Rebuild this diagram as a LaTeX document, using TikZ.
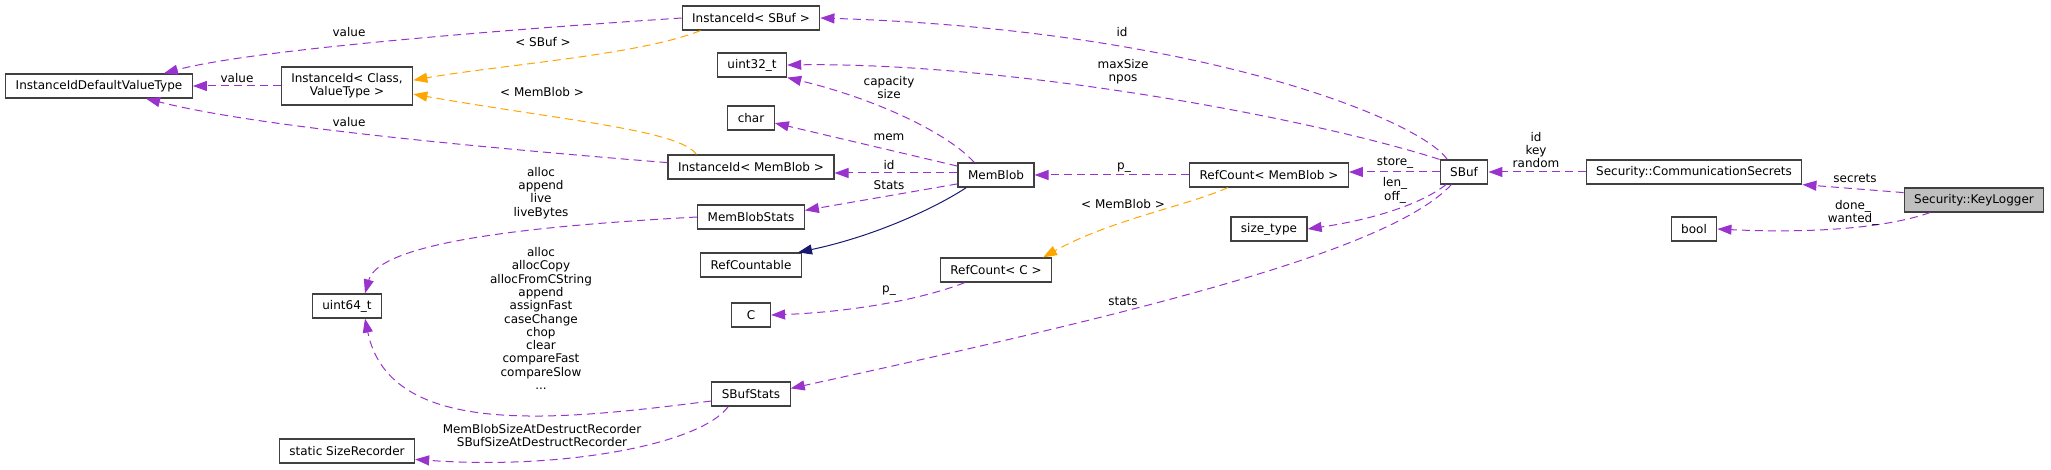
\documentclass[tikz,border=0pt]{standalone}
\usepackage{fontspec}
\setmainfont{DejaVu Sans}
\usetikzlibrary{arrows.meta}
\definecolor{member}{HTML}{9A32CD}
\definecolor{templ}{HTML}{FFA500}
\definecolor{base}{HTML}{191970}
\definecolor{frame}{HTML}{404040}
\definecolor{rootfill}{HTML}{BFBFBF}
\begin{document}
\begin{tikzpicture}[x=1pt,y=-1pt,font=\fontsize{12}{13.3}\selectfont,
    cls/.style={draw=frame,line width=1.2pt,fill=white,inner xsep=10pt,inner ysep=0pt,
        minimum height=24pt,minimum width=39pt,align=center},
    rootcls/.style={cls,fill=rootfill},
    lbl/.style={align=center,inner sep=0pt},
    memb/.style={draw=member,line width=1pt,dash pattern=on 8pt off 5pt,
        -{Triangle[length=14pt,width=10pt]}},
    tmpl/.style={memb,draw=templ},
    inh/.style={draw=base,line width=1pt,-{Triangle[length=14pt,width=10pt]}}]
    \useasboundingbox (0,0) rectangle (2051,470);
    % classes
    \node[cls] (defval) at (99,86) {InstanceIdDefaultValueType};
    \node[cls,minimum height=38pt] (iidgen) at (347,86) {InstanceId< Class,\\ValueType >};
    \node[cls] (iidsbuf) at (751,18) {InstanceId< SBuf >};
    \node[cls] (uint32) at (752,65) {uint32\_t};
    \node[cls] (char) at (751,118) {char};
    \node[cls] (iidmb) at (751,167) {InstanceId< MemBlob >};
    \node[cls] (mbstats) at (751,217) {MemBlobStats};
    \node[cls] (refcountable) at (751,265) {RefCountable};
    \node[cls] (cnode) at (751,315) {C};
    \node[cls] (sbufstats) at (751,394) {SBufStats};
    \node[cls] (uint64) at (347,306) {uint64\_t};
    \node[cls] (sizerec) at (347,451) {static SizeRecorder};
    \node[cls] (memblob) at (996,175) {MemBlob};
    \node[cls] (refc) at (996,270) {RefCount< C >};
    \node[cls] (refmb) at (1269,175) {RefCount< MemBlob >};
    \node[cls] (sizetype) at (1269,229) {size\_type};
    \node[cls] (sbuf) at (1464,172) {SBuf};
    \node[cls] (commsec) at (1694,172) {Security::CommunicationSecrets};
    \node[cls] (bool) at (1694,229) {bool};
    \node[rootcls] (keylog) at (1974,200) {Security::KeyLogger};
    % members
    \scope[memb]
    \draw (iidgen.west) -- (defval.east);
    \draw (iidsbuf.west) .. controls (500,30) and (250,50) .. (defval.11);
    \draw (iidmb.177) .. controls (450,145) and (250,125) .. (defval.-15);
    \draw (sbuf.143) .. controls (1420,120) and (1200,30) .. (iidsbuf.east);
    \draw (sbuf.north west) .. controls (1300,115) and (1000,62) .. (uint32.east);
    \draw (memblob.150) .. controls (950,135) and (880,100) .. (uint32.south east);
    \draw (memblob.167) -- (char.-12);
    \draw ([yshift=2pt]memblob.west) -- ([yshift=2pt]memblob.west -| iidmb.east);
    \draw (memblob.193) -- (mbstats.7);
    \draw (refmb.west) -- (memblob.east);
    \draw (sbuf.west) -- (sbuf.west -| refmb.east);
    \draw (sbuf.215) .. controls (1420,205) and (1370,220) .. (sizetype.east);
    \draw (sbuf.225) .. controls (1390,250) and (1150,310) .. (sbufstats.8);
    \draw (mbstats.west) .. controls (550,225) and (380,240) .. (uint64.35);
    \draw (sbufstats.190) .. controls (560,420) and (390,440) .. (uint64.-35);
    \draw (sbufstats.209) .. controls (700,445) and (560,470) .. (sizerec.-7);
    \draw (refc.202) .. controls (920,300) and (850,312) .. (cnode.east);
    \draw (commsec.west) -- (sbuf.east);
    \draw (keylog.174) -- (commsec.south east);
    \draw (keylog.196) .. controls (1880,230) and (1800,233) .. (bool.east);
    \endscope
    % templates
    \scope[tmpl]
    \draw (iidsbuf.194) .. controls (640,55) and (500,65) .. (iidgen.5);
    \draw (iidmb.167) .. controls (680,130) and (560,120) .. (iidgen.-7);
    \draw (refmb.197) .. controls (1190,205) and (1110,220) .. (refc.15);
    \endscope
    % base class
    \draw[inh] (memblob.203) .. controls (940,205) and (880,235) .. (refcountable.15);
    % labels
    \node[lbl] (lvala) at (349,32) {value};
    \node[lbl] (lvalb) at (237,78) {value};
    \node[lbl] (lvalc) at (349,122) {value};
    \node[lbl] (lsbuf) at (543,42) {< SBuf >};
    \node[lbl] (lmbt) at (542,92) {< MemBlob >};
    \node[lbl] (lmblive) at (541,193) {alloc\\append\\live\\liveBytes};
    \node[lbl] (lid) at (1122,32) {id};
    \node[lbl] (lmax) at (1123,71.5) {maxSize\\npos};
    \node[lbl] (lcap) at (889,87.5) {capacity\\size};
    \node[lbl] (lmem) at (889,137) {mem};
    \node[lbl] (lmbid) at (889,165) {id};
    \node[lbl] (lstats) at (889,185) {Stats};
    \node[lbl] (lp) at (1124,168) {p\_};
    \node[lbl] (lrct) at (1123,204) {< MemBlob >};
    \node[lbl] (lstore) at (1395,163) {store\_};
    \node[lbl] (llen) at (1395,190.5) {len\_\\off\_};
    \node[lbl] (lkey) at (1536,150) {id\\key\\random};
    \node[lbl] (lsecr) at (1855,178) {secrets};
    \node[lbl] (ldone) at (1853,213) {done\_\\wanted\_};
    \node[lbl] (lpc) at (889,291) {p\_};
    \node[lbl] (lsst) at (1123,301) {stats};
    \node[lbl] (lalloc) at (541,318.5) {alloc\\allocCopy\\allocFromCString\\append\\assignFast\\caseChange\\chop\\clear\\compareFast\\compareSlow\\...};
    \node[lbl] (lrec) at (542,435.5) {MemBlobSizeAtDestructRecorder\\SBufSizeAtDestructRecorder};
\end{tikzpicture}
\end{document}
